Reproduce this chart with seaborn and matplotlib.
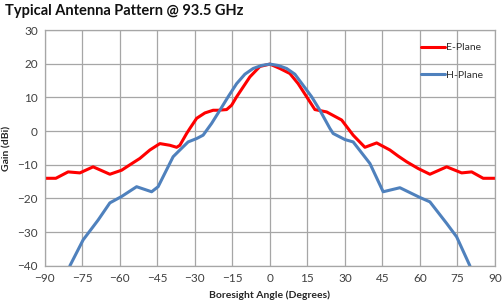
import numpy as np
import pandas as pd
import matplotlib.pyplot as plt
import seaborn as sns
from matplotlib.ticker import MultipleLocator

# E-Plane (red)
e_angle = [-90, -85.6, -80.7, -76, -70.7, -64, -59.3, -56, -52, -48, -44, -40,
           -37.3, -36, -33.3, -32, -29.3, -26, -22.7, -20.7, -17.3, -15.3, -13.3,
           -8, -4, 0, 4, 8, 11.3, 14.7, 18, 22.7, 28.7, 33.3, 38, 42.7, 48,
           51.3, 54.7, 59.3, 64, 70.7, 76.7, 80.7, 85.3, 90]
e_gain = [-14, -14, -12.1, -12.4, -10.6, -12.8, -11.6, -10, -8.1, -5.6, -3.7, -4.2,
          -4.8, -4.2, -0.7, 0.8, 3.8, 5.4, 6.2, 6.2, 6.4, 7.7, 10.2,
          16.1, 19.2, 19.9, 18.6, 17.1, 14.1, 10.2, 6.4, 5.7, 3.3, -1.2, -4.8, -3.5, -5.6,
          -7.4, -9.1, -11.1, -12.8, -10.6, -12.4, -12.1, -14, -14]

# H-Plane (blue)
h_angle = [-80, -74.7, -68.7, -64, -59.3, -53.3, -47.3, -44.7, -38.7, -36, -32.7,
           -29.3, -26.7, -23.3, -20, -16.7, -13.3, -10, -6.7, -3.3, 0, 3.3, 6.7,
           10, 13.3, 16.7, 20, 24, 25.3, 30, 33.3, 40, 45.3, 52, 60, 64, 70.7,
           74.7, 80]
h_gain = [-40, -32.3, -26.4, -21.3, -19.4, -16.5, -18.0, -16.5, -7.6, -5.6, -3.2,
          -2.2, -1.2, 2.3, 6.2, 10.2, 14.1, 16.9, 18.6, 19.5, 19.9, 19.5, 18.6,
          16.9, 13.6, 10.2, 6.2, 0.8, -0.7, -2.5, -3.2, -9.6, -18.0, -16.8, -19.7, -21.0, -27.4,
          -31.4, -40]

x_ticks = list(range(-90, 91, 15))
y_ticks = list(range(-40, 31, 10))

df = pd.concat([
    pd.DataFrame({'angle': e_angle, 'gain': e_gain, 'plane': 'E-Plane'}),
    pd.DataFrame({'angle': h_angle, 'gain': h_gain, 'plane': 'H-Plane'}),
])

sns.set_style('white')
plt.rcParams['font.family'] = ['Lato', 'DejaVu Sans']

fig = plt.figure(figsize=(5.04, 3.07), dpi=100)
ax = fig.add_axes([0.089, 0.134, 0.893, 0.768])

sns.lineplot(data=df, x='angle', y='gain', hue='plane', sort=False,
             palette={'E-Plane': '#ff0000', 'H-Plane': '#4f81bd'},
             linewidth=2.2, ax=ax, estimator=None)
for ln in ax.lines:
    ln.set_solid_joinstyle('round')

ax.set_xlim(-90, 90)
ax.set_ylim(-40, 30)
ax.set_xticks(x_ticks)
ax.set_yticks(y_ticks)
ax.xaxis.set_minor_locator(MultipleLocator(5))
ax.yaxis.set_minor_locator(MultipleLocator(2))
ax.grid(True, which='major', color='#a6a6a6', linewidth=0.9)
ax.set_axisbelow(True)
ax.tick_params(which='major', length=0, labelsize=8.5, labelcolor='#404040', pad=5)
ax.tick_params(which='minor', direction='in', length=3, color='#a6a6a6', width=0.8)
for s in ax.spines.values():
    s.set_color('#a6a6a6')
    s.set_linewidth(0.9)

ax.set_xlabel('Boresight Angle (Degrees)', fontsize=7.5, fontweight='bold', labelpad=5)
ax.set_ylabel('Gain (dBi)', fontsize=7.5, fontweight='bold')
ax.yaxis.set_label_coords(-0.075, 0.5)

leg = ax.legend(loc='upper right', bbox_to_anchor=(0.995, 0.985), frameon=False,
                fontsize=7.5, handlelength=2.3, handletextpad=0.1, labelspacing=1.75)
for t in leg.get_texts():
    t.set_color('#303030')

fig.text(0.01, 0.965, 'Typical Antenna Pattern @ 93.5 GHz', fontsize=10.5,
         fontweight='bold', va='center', ha='left', color='#111111')

plt.savefig('out.png', dpi=100)
plt.close()
